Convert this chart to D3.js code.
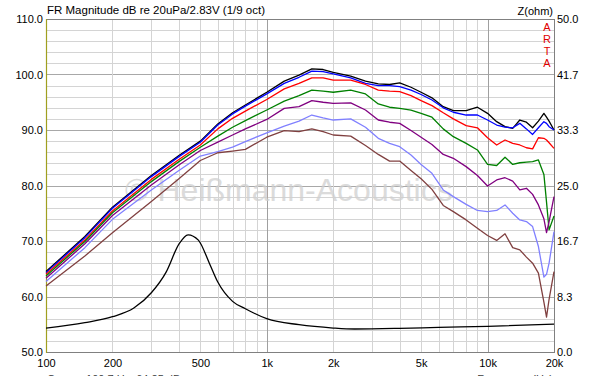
<!DOCTYPE html>
<html>
<head>
<meta charset="utf-8">
<script src="https://cdn.jsdelivr.net/npm/d3@7"></script>
<style>
	body { margin: 0; background: #fff; }
	svg { display: block; font-family: "Liberation Sans", Arial, sans-serif; }
</style>
</head>
<body>
<div id="chart"></div>
<script>

// frequency points shared by all SPL curves (Hz)
var freqs = [100, 150, 200, 300, 400, 500, 600, 700, 800, 1000, 1200, 1400, 1600, 1800, 2000, 2400, 2800, 3200, 3600, 4000,
	4500, 5000, 5600, 6300, 7000, 8000, 9000, 10000, 11000, 12000, 13000, 14000, 15000, 16000, 17000, 18000, 18500, 19000, 20000];

// SPL curves, dB
var splBlack = [64.5, 70.8, 76.1, 81.8, 85.4, 88.0, 91.1, 93.1, 94.5, 96.8, 98.8, 99.9, 101.0, 100.9, 100.4, 99.7, 98.8, 98.3, 98.2, 98.5,
	97.7, 96.8, 95.8, 94.2, 93.5, 93.5, 94.1, 93.0, 91.5, 90.6, 90.3, 91.8, 91.4, 90.4, 91.6, 93.0, 92.3, 91.6, 90.0];
var splBlue = [64.3, 70.6, 75.9, 81.6, 85.2, 87.8, 90.9, 92.9, 94.3, 96.5, 98.4, 99.5, 100.6, 100.5, 100.1, 99.4, 98.4, 98.0, 98.0, 97.8,
	97.2, 96.4, 95.4, 94.0, 93.2, 92.7, 92.7, 91.8, 90.9, 90.5, 90.4, 91.2, 90.2, 89.2, 90.4, 91.5, 91.2, 90.6, 90.0];
var splRed = [64.0, 70.2, 75.4, 81.1, 84.7, 87.3, 90.2, 92.1, 93.4, 95.5, 97.4, 98.4, 99.4, 99.4, 99.0, 99.0, 98.2, 97.2, 97.0, 96.9,
	96.2, 95.3, 94.4, 93.1, 92.0, 90.8, 90.4, 88.6, 87.3, 88.2, 87.6, 87.3, 86.8, 86.6, 88.6, 88.5, 88.2, 87.7, 86.7];
var splGreen = [63.7, 69.9, 75.1, 80.7, 84.3, 86.9, 88.9, 90.5, 91.7, 93.6, 95.2, 96.2, 97.2, 97.0, 96.8, 97.2, 96.5, 94.7, 94.1, 93.9,
	93.6, 93.0, 92.3, 90.2, 88.8, 87.6, 86.4, 83.8, 83.6, 85.1, 83.8, 84.1, 84.2, 84.3, 84.6, 82.0, 77.0, 72.0, 74.5];
var splPurple = [63.3, 69.5, 74.6, 80.1, 83.7, 86.3, 87.8, 89.1, 90.2, 91.9, 93.9, 94.2, 95.3, 95.0, 94.8, 94.9, 93.6, 91.8, 91.4, 91.2,
	89.9, 88.7, 87.4, 85.6, 84.9, 83.4, 81.8, 79.9, 81.0, 81.4, 80.8, 79.2, 79.5, 78.4, 76.5, 74.0, 71.5, 73.5, 78.0];
var splLightBlue = [62.7, 68.8, 73.9, 79.2, 82.7, 85.3, 86.1, 86.9, 87.9, 89.5, 90.7, 91.6, 92.7, 92.2, 91.8, 92.0, 90.5, 88.5, 87.6, 87.0,
	85.5, 83.8, 82.2, 79.2, 78.0, 76.6, 75.5, 75.3, 75.5, 76.5, 75.0, 73.8, 73.5, 72.6, 69.0, 63.5, 64.0, 66.0, 71.7];
var splBrown = [61.9, 67.3, 71.5, 77.1, 81.2, 84.5, 85.9, 86.2, 86.5, 88.7, 89.9, 89.7, 90.2, 89.7, 89.1, 88.9, 87.2, 85.6, 84.4, 84.4,
	82.7, 81.2, 79.3, 76.4, 75.3, 73.8, 72.3, 71.0, 70.1, 71.3, 68.8, 68.4, 67.1, 66.0, 64.2, 59.0, 56.3, 59.5, 64.5];

// impedance curve (ohm)
var zFreqs = [100, 150, 200, 250, 300, 350, 400, 440, 490, 550, 600, 700, 800, 1000, 1400, 2000, 2500, 4000, 6000, 10000, 20000];
var zOhm = [3.6, 4.4, 5.3, 6.6, 8.9, 12.0, 16.2, 17.6, 16.8, 13.3, 10.5, 7.6, 6.5, 5.0, 4.1, 3.6, 3.45, 3.55, 3.7, 3.85, 4.2];

var xTicks = [100, 200, 500, 1000, 2000, 5000, 10000, 20000];
var xTickLabels = ["100", "200", "500", "1k", "2k", "5k", "10k", "20k"];
var dbTicks = [50, 60, 70, 80, 90, 100, 110];
var zTicks = [0, 8.33, 16.67, 25, 33.33, 41.67, 50];

var W = 600, H = 376;
var plot = { "left": 46, "right": 554, "top": 19, "bottom": 352 };

var svg = d3.select("#chart").append("svg")
	.attr("width", W)
	.attr("height", H);

var x = d3.scaleLog().domain([100, 20000]).range([plot.left, plot.right]);
var y = d3.scaleLinear().domain([50, 110]).range([plot.bottom, plot.top]);
var z = d3.scaleLinear().domain([0, 50]).range([plot.bottom, plot.top]);

// grid
var grid = svg.append("g");
var hLines = d3.range(52, 110, 2);
grid.selectAll("line.h").data(hLines).enter().append("line")
	.attr("x1", plot.left).attr("x2", plot.right)
	.attr("y1", function(d) { return Math.round(y(d)) + 0.5; })
	.attr("y2", function(d) { return Math.round(y(d)) + 0.5; })
	.attr("stroke", function(d) { return d % 10 == 0 ? "#a8a8a8" : "#d4d4d4"; })
	.attr("stroke-width", 1);

var vLines = [];
[100, 1000, 10000].forEach(function(dec) {
	for (var m = 1; m < 10; m++) {
		if (dec * m > 100 && dec * m < 20000) vLines.push(dec * m);
	}
});
grid.selectAll("line.v").data(vLines).enter().append("line")
	.attr("x1", function(d) { return Math.round(x(d)) + 0.5; })
	.attr("x2", function(d) { return Math.round(x(d)) + 0.5; })
	.attr("y1", plot.top).attr("y2", plot.bottom)
	.attr("stroke", function(d) { return (d == 1000 || d == 10000) ? "#a0a0a0" : "#d4d4d4"; })
	.attr("stroke-width", 1);

// watermark
svg.append("text")
	.attr("x", 125)
	.attr("y", 201)
	.attr("fill", "#cfcfcf")
	.attr("opacity", 0.75)
	.style("font-size", "32px")
	.text("\u00a9 Hei\u00dfmann-Acoustics");

// frame
svg.append("rect")
	.attr("x", plot.left + 0.5).attr("y", plot.top + 0.5)
	.attr("width", plot.right - plot.left).attr("height", plot.bottom - plot.top)
	.attr("fill", "none")
	.attr("stroke", "#808080");
svg.append("line")
	.attr("x1", plot.left + 0.5).attr("x2", plot.left + 0.5)
	.attr("y1", plot.top).attr("y2", plot.bottom + 1)
	.attr("stroke", "#a0a020")
	.attr("stroke-width", 1.2);

// curves
var line = d3.line()
	.x(function(d) { return x(d[0]); })
	.y(function(d) { return y(d[1]); });

var series = [
	{ values: splBlack, colour: "#000000" },
	{ values: splBlue, colour: "#0000ff" },
	{ values: splRed, colour: "#ff0000" },
	{ values: splGreen, colour: "#008000" },
	{ values: splPurple, colour: "#800080" },
	{ values: splLightBlue, colour: "#8080ff" },
	{ values: splBrown, colour: "#804040" }
];

var curves = svg.append("g");
series.forEach(function(s) {
	curves.append("path")
		.datum(freqs.map(function(f, i) { return [f, s.values[i]]; }))
		.attr("d", line)
		.attr("fill", "none")
		.attr("stroke", s.colour)
		.attr("stroke-width", 1.3)
		.attr("stroke-linejoin", "round");
});

var zLine = d3.line()
	.x(function(d) { return x(d[0]); })
	.y(function(d) { return z(d[1]); })
	.curve(d3.curveMonotoneX);
curves.append("path")
	.datum(zFreqs.map(function(f, i) { return [f, zOhm[i]]; }))
	.attr("d", zLine)
	.attr("fill", "none")
	.attr("stroke", "#000000")
	.attr("stroke-width", 1.3);

// axes (labels only)
var axisFont = function(g) {
	g.select(".domain").remove();
	g.selectAll("text").style("font-size", "11px").attr("fill", "#000");
};

svg.append("g")
	.attr("transform", "translate(" + plot.left + ",0)")
	.call(d3.axisLeft(y).tickValues(dbTicks).tickFormat(d3.format(".1f")).tickSize(0).tickPadding(3))
	.call(axisFont);

svg.append("g")
	.attr("transform", "translate(" + plot.right + ",0)")
	.call(d3.axisRight(z).tickValues(zTicks).tickFormat(d3.format(".1f")).tickSize(0).tickPadding(3))
	.call(axisFont);

svg.append("g")
	.attr("transform", "translate(0," + plot.bottom + ")")
	.call(d3.axisBottom(x).tickValues(xTicks).tickFormat(function(d, i) { return xTickLabels[i]; }).tickSize(0).tickPadding(7))
	.call(axisFont);

// titles
svg.append("text")
	.attr("x", 47).attr("y", 14)
	.style("font-size", "11.5px")
	.text("FR Magnitude dB re 20uPa/2.83V (1/9 oct)");

svg.append("text")
	.attr("x", 553).attr("y", 15)
	.attr("text-anchor", "end")
	.style("font-size", "11px")
	.text("Z(ohm)");

var arta = ["A", "R", "T", "A"];
svg.selectAll("text.arta").data(arta).enter().append("text")
	.attr("x", 547)
	.attr("y", function(d, i) { return 31 + i * 12; })
	.attr("text-anchor", "middle")
	.attr("fill", "#e00000")
	.style("font-size", "11px")
	.text(function(d) { return d; });

// cut-off status texts at the bottom
svg.append("text")
	.attr("x", 47).attr("y", 383)
	.style("font-size", "11px")
	.attr("fill", "#404040")
	.text("Cursor:  100.7 Hz, 64.25 dB");
svg.append("text")
	.attr("x", 553).attr("y", 383)
	.attr("text-anchor", "end")
	.style("font-size", "11px")
	.attr("fill", "#404040")
	.text("Frequency (Hz)");

</script>
</body>
</html>
